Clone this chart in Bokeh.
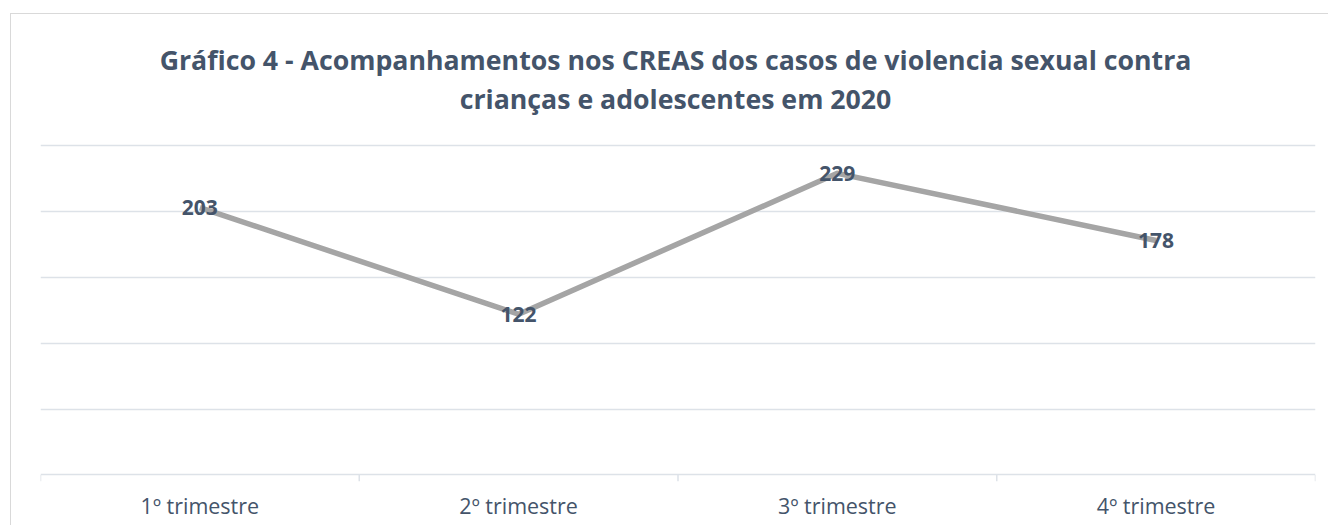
from bokeh.plotting import figure
from bokeh.models import (FactorRange, Range1d, CategoricalAxis, FixedTicker,
                          ColumnDataSource, LabelSet, Grid, Label)
from bokeh.core.properties import value
from bokeh.transform import dodge
from bokeh.embed import file_html
from bokeh.resources import INLINE

categories = ["1º trimestre", "2º trimestre", "3º trimestre", "4º trimestre"]
values = [203, 122, 229, 178]
title_lines = ["Gráfico 4 - Acompanhamentos nos CREAS dos casos de violencia sexual contra",
               "crianças e adolescentes em 2020"]
grid_ticks = [0, 50, 100, 150, 200, 250]

FONT = "Open Sans"
SLATE = "#44546A"
GRID = "#DDE2E8"
TICK_LEN = 5      # data units below the zero line
TOP_ROOM = 99.6   # data units above the top gridline, room for the title

p = figure(width=1318, height=512,
           x_range=FactorRange(factors=categories, range_padding=0),
           y_range=Range1d(-TICK_LEN, 250 + TOP_ROOM),
           x_axis_location=None, y_axis_location=None,
           output_backend="svg", toolbar_location=None,
           min_border_left=29, min_border_right=14, min_border_top=0, min_border_bottom=45)
p.margin = (13, 0, 0, 10)
p.styles = {"border-top": "1.5px solid #D9D9D9", "border-left": "1.5px solid #D9D9D9"}
p.outline_line_color = None
p.background_fill_color = "white"
p.border_fill_color = "white"
p.center = []

p.add_layout(Grid(dimension=1, ticker=FixedTicker(ticks=grid_ticks),
                  grid_line_color=GRID, grid_line_width=1.5))

# category boundary ticks on the x axis
tick_src = ColumnDataSource(dict(cat=categories, y0=[0] * len(categories),
                                 y1=[-TICK_LEN] * len(categories)))
p.segment(x0=dodge("cat", -0.5, range=p.x_range), x1=dodge("cat", -0.5, range=p.x_range),
          y0="y0", y1="y1", source=tick_src, line_color=GRID, line_width=1.5)
last_src = ColumnDataSource(dict(cat=categories[-1:], y0=[0], y1=[-TICK_LEN]))
p.segment(x0=dodge("cat", 0.5, range=p.x_range), x1=dodge("cat", 0.5, range=p.x_range),
          y0="y0", y1="y1", source=last_src, line_color=GRID, line_width=1.5)

cat_axis = CategoricalAxis(major_tick_line_color=None, axis_line_color=None,
                           major_label_text_font=FONT, major_label_text_font_size="21.5px",
                           major_label_text_color=SLATE, major_label_standoff=3)
p.add_layout(cat_axis, "below")

src = ColumnDataSource(dict(cat=categories, val=values, lab=[str(v) for v in values]))
p.line("cat", "val", source=src, line_color="#A5A5A5", line_width=5.5, line_join="round")
p.add_layout(LabelSet(x="cat", y="val", text="lab", source=src,
                      text_align="center", text_baseline="middle",
                      text_font=value(FONT), text_font_style="bold",
                      text_font_size="21px", text_color=SLATE))

# title lines, placed in screen units relative to the frame (left=41, bottom=479 on the page)
FRAME_LEFT, FRAME_BOTTOM = 41, 479
for t, baseline in zip(title_lines, [57, 96]):
    p.add_layout(Label(x=676 - FRAME_LEFT, y=FRAME_BOTTOM - baseline,
                       x_units="screen", y_units="screen",
                       text=t, text_align="center", text_baseline="alphabetic",
                       text_font=FONT, text_font_style="bold", text_font_size="26.7px",
                       text_color=SLATE))

open("out.html", "w").write(file_html(p, INLINE))
